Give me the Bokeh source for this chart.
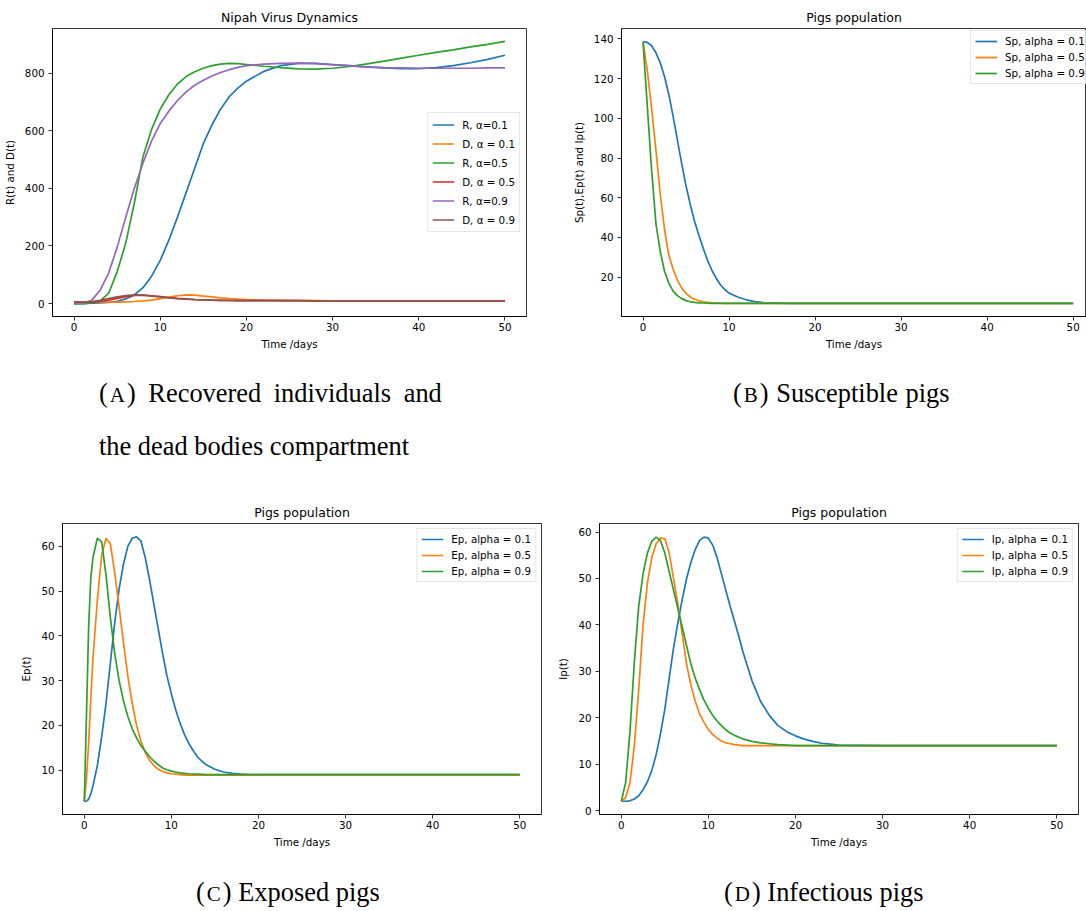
from bokeh.plotting import figure
from bokeh.models import Legend, LegendItem, Div, FixedTicker, Range1d
from bokeh.layouts import column, row
from bokeh.embed import file_html
from bokeh.resources import INLINE

# ---------------- data ----------------
# Panel A: recovered individuals R(t) and dead bodies D(t)
t_A = list(range(0, 21)) + list(range(22, 51, 2))
R_a01 = [0, 0, 1, 2, 4, 8, 16, 30, 55, 95, 150, 220, 300, 385, 470, 555, 620, 675, 718, 748, 772,
         806, 826, 834, 834, 830, 826, 822, 818, 816, 816, 819, 826, 836, 848, 862]
D_a01 = [5, 5, 5, 5, 5, 5, 6, 7, 9, 12, 17, 22, 27, 30, 29, 26, 23, 20, 17.5, 15.5, 14,
         12, 11, 10, 10, 9, 9, 9, 9, 9, 9, 9, 9, 9, 9, 9]
R_a05 = [0, 0, 2, 8, 35, 110, 210, 350, 510, 605, 675, 725, 762, 788, 805, 817, 826, 831, 834, 833, 830,
         824, 819, 815, 814, 817, 823, 832, 842, 852, 862, 872, 881, 891, 900, 910]
D_a05 = [5, 5, 5, 7, 12, 18, 24, 28, 29, 27, 24, 21, 18, 16, 14, 13, 12, 11, 11, 10, 10,
         10, 10, 10, 9, 9, 9, 9, 9, 9, 9, 9, 9, 9, 9, 9]
R_a09 = [0, 2, 10, 45, 105, 195, 300, 400, 488, 565, 625, 668, 705, 735, 758, 775, 790, 802, 812, 820, 826,
         831, 834, 835, 833, 829, 825, 821, 819, 818, 817, 817, 817, 817, 818, 818]
D_a09 = [5, 5, 7, 11, 17, 23, 28, 30, 29, 26, 23, 20, 17, 15, 13.5, 12.5, 11.5, 11, 10.5, 10, 10,
         10, 10, 10, 9, 9, 9, 9, 9, 9, 9, 9, 9, 9, 9, 9]
labels_A = ["R, \u03b1=0.1", "D, \u03b1 = 0.1", "R, \u03b1=0.5", "D, \u03b1 = 0.5", "R, \u03b1=0.9", "D, \u03b1 = 0.9"]

# Panel B: susceptible pigs Sp(t)
t_B = [i * 0.5 for i in range(21)] + list(range(11, 21)) + [25, 30, 35, 40, 45, 50]
Sp_a01 = [138.5, 138.2, 136.5, 133, 128, 121, 112, 101, 89, 77, 66, 56.5, 48, 41, 34.5, 28.5, 23.5, 19.5, 16.2, 13.8, 12,
          10, 8.6, 7.7, 7.2, 7.0, 6.9, 6.85, 6.8, 6.8, 6.8,
          6.8, 6.8, 6.8, 6.8, 6.8, 6.8]
Sp_a05 = [138.5, 124, 105, 84, 62, 44, 31, 24, 18.5, 14.5, 11.8, 10, 8.9, 8.1, 7.6, 7.3, 7.1, 7.0, 6.9, 6.85, 6.8,
          6.8, 6.8, 6.8, 6.8, 6.8, 6.8, 6.8, 6.8, 6.8, 6.8,
          6.8, 6.8, 6.8, 6.8, 6.8, 6.8]
Sp_a09 = [138.5, 106, 74, 47, 33, 23, 17, 13, 10.7, 9.2, 8.2, 7.6, 7.3, 7.1, 7.0, 6.9, 6.85, 6.8, 6.8, 6.8, 6.8,
          6.8, 6.8, 6.8, 6.8, 6.8, 6.8, 6.8, 6.8, 6.8, 6.8,
          6.8, 6.8, 6.8, 6.8, 6.8, 6.8]
labels_B = ["Sp, alpha = 0.1", "Sp, alpha = 0.5", "Sp, alpha = 0.9"]

# Panel C: exposed pigs Ep(t)
t_C = [0, 0.25, 0.5, 0.75] + [1 + i * 0.5 for i in range(27)] + list(range(15, 21)) + [25, 30, 35, 40, 45, 50]
Ep_a01 = [3, 3.1, 3.5, 4.7, 6.5, 11, 17.5, 25, 34, 43, 50.5, 56, 60, 61.8, 62.1, 61.2, 57.5, 52.5, 47, 41.5, 36, 31, 27,
          23.5, 20.5, 18, 16, 14.4, 13, 12, 11.2,
          10.2, 9.6, 9.3, 9.1, 9.0, 9.0,
          9.0, 9.0, 9.0, 9.0, 9.0, 9.0]
Ep_a05 = [3, 8, 16, 26, 35, 48, 58, 61.8, 60.5, 54, 46.5, 38.5, 31, 25, 20, 16.5, 14, 12.2, 11, 10.2, 9.7, 9.4, 9.2,
          9.1, 9.0, 8.9, 8.9, 8.9, 8.9, 8.9, 8.9,
          8.9, 8.9, 8.9, 8.9, 8.9, 8.9,
          8.9, 8.9, 8.9, 8.9, 8.9, 8.9]
Ep_a09 = [3, 22, 42, 53, 57.5, 61.8, 61, 53.5, 44, 36, 30, 25.5, 22, 19.3, 17.2, 15.5, 14.2, 13, 12, 11.2, 10.5, 10.1, 9.8,
          9.6, 9.4, 9.3, 9.2, 9.15, 9.1, 9.05, 9.0,
          9.0, 9.0, 9.0, 9.0, 9.0, 9.0,
          9.0, 9.0, 9.0, 9.0, 9.0, 9.0]
labels_C = ["Ep, alpha = 0.1", "Ep, alpha = 0.5", "Ep, alpha = 0.9"]

# Panel D: infectious pigs Ip(t)
t_D = [i * 0.5 for i in range(29)] + list(range(15, 26)) + [30, 35, 40, 45, 50]
Ip_a01 = [2, 2, 2.1, 2.5, 3.2, 4.5, 6.2, 8.6, 12, 16.5, 21.8, 28.5, 35, 40.5, 45.5, 50, 53.5, 56.3, 58.2, 58.9, 58.7,
          57.2, 54.5, 51, 47.5, 44, 40.8, 37.5, 34,
          28, 23.5, 20.5, 18.3, 17, 16.1, 15.4, 14.9, 14.5, 14.3, 14.1,
          14, 14, 14, 14, 14]
Ip_a05 = [2, 2.8, 6, 14, 26, 40, 49, 54.5, 57.5, 58.7, 58.6, 55.5, 50, 44.5, 38, 31.5, 27, 23.5, 20.8, 19, 17.5,
          16.4, 15.6, 15, 14.6, 14.4, 14.2, 14.1, 14.0,
          14, 14, 14, 14, 14, 14, 14, 14, 14, 14, 14,
          14, 14, 14, 14, 14]
Ip_a09 = [2, 6, 17, 32, 44, 51, 55.5, 58, 58.9, 58.2, 55.5, 51.5, 47.5, 43.5, 39.5, 35.5, 31.5, 28.5, 26, 23.8, 22,
          20.5, 19.3, 18.3, 17.4, 16.7, 16.2, 15.8, 15.4,
          14.9, 14.6, 14.4, 14.2, 14.1, 14.0, 14, 14, 14, 14, 14,
          14, 14, 14, 14, 14]
labels_D = ["Ip, alpha = 0.1", "Ip, alpha = 0.5", "Ip, alpha = 0.9"]

# ticks
xticks = [0, 10, 20, 30, 40, 50]
yticks_A = [0, 200, 400, 600, 800]
yticks_B = [20, 40, 60, 80, 100, 120, 140]
yticks_C = [10, 20, 30, 40, 50, 60]
yticks_D = [0, 10, 20, 30, 40, 50, 60]

captions = {
    "A": ("A", "Recovered individuals and", "the dead bodies compartment"),
    "B": ("B", "Susceptible pigs"),
    "C": ("C", "Exposed pigs"),
    "D": ("D", "Infectious pigs"),
}

# ---------------- styling ----------------
TAB = ["#1f77b4", "#ff7f0e", "#2ca02c", "#d62728", "#9467bd", "#8c564b"]
FONT = "DejaVu Sans"
SMALL = "10.3px"
LW = 1.7


def styled_fig(width, height, xr, yr, title, ylabel, yticks, borders, title_offset=0):
    bl, br, bt, bb = borders
    p = figure(width=width, height=height, x_range=Range1d(*xr), y_range=Range1d(*yr),
               output_backend="svg", toolbar_location=None,
               min_border_left=bl, min_border_right=br, min_border_top=bt, min_border_bottom=bb,
               background_fill_color="white", border_fill_color="white")
    p.title.text = title
    p.title.text_font = FONT
    p.title.text_font_size = "12.5px"
    p.title.text_font_style = "normal"
    p.title.text_color = "#000000"
    p.title.align = "center"
    p.title.standoff = 6.5
    p.title.offset = title_offset
    p.xgrid.visible = False
    p.ygrid.visible = False
    p.outline_line_color = "#000000"
    p.outline_line_width = 0.8
    p.outline_line_alpha = 1.0
    for ax, ticks, st in ((p.xaxis, xticks, 2), (p.yaxis, yticks, 4)):
        ax.ticker = FixedTicker(ticks=ticks)
        ax.axis_line_color = "#000000"
        ax.axis_line_width = 0.8
        ax.major_tick_line_color = "#000000"
        ax.major_tick_line_width = 0.8
        ax.major_tick_out = 4
        ax.major_tick_in = 0
        ax.minor_tick_line_color = None
        ax.major_label_text_font = FONT
        ax.major_label_text_font_size = SMALL
        ax.major_label_text_color = "#000000"
        ax.major_label_standoff = st
        ax.axis_label_text_font = FONT
        ax.axis_label_text_font_size = SMALL
        ax.axis_label_text_font_style = "normal"
        ax.axis_label_text_color = "#000000"
    p.xaxis.axis_label = "Time /days"
    p.xaxis.axis_label_standoff = 4
    p.yaxis.axis_label = ylabel
    p.yaxis.axis_label_standoff = 6
    return p


def add_legend(p, renderers, labels, location, row_h, spacing, margin=5):
    leg = Legend(items=[LegendItem(label=l, renderers=[r]) for l, r in zip(labels, renderers)],
                 location=location)
    leg.label_text_font = FONT
    leg.label_text_font_size = SMALL
    leg.label_text_color = "#000000"
    leg.glyph_width = 22
    leg.glyph_height = row_h
    leg.label_height = row_h
    leg.spacing = spacing
    leg.padding = 4
    leg.margin = margin
    leg.label_standoff = 8
    leg.border_line_color = "#cccccc"
    leg.border_line_width = 1
    leg.background_fill_color = "white"
    leg.background_fill_alpha = 0.8
    p.add_layout(leg)


# Panel A
pA = styled_fig(540, 360, (-2.5, 52.5), (-45, 955), "Nipah Virus Dynamics", "R(t) and D(t)",
                yticks_A, (52, 14, 28, 44))
rs = []
for ys, c in zip([R_a01, D_a01, R_a05, D_a05, R_a09, D_a09], TAB):
    rs.append(pA.line(t_A, ys, line_color=c, line_width=LW))
add_legend(pA, rs, labels_A, "center_right", 15, 4, margin=6)

# Panel B
pB = styled_fig(546, 360, (-2.5, 51.55), (0.2, 145.2), "Pigs population", "Sp(t),Ep(t) and Ip(t)",
                yticks_B, (81, 0, 28, 44), title_offset=4)
rs = []
for ys, c in zip([Sp_a01, Sp_a05, Sp_a09], TAB):
    rs.append(pB.line(t_B, ys, line_color=c, line_width=LW))
add_legend(pB, rs, labels_B, (349, 232), 12, 4)

# Panel C
pC = styled_fig(545, 360, (-2.5, 52.5), (0.1, 65.1), "Pigs population", "Ep(t)",
                yticks_C, (62, 4, 28, 41))
rs = []
for ys, c in zip([Ep_a01, Ep_a05, Ep_a09], TAB):
    rs.append(pC.line(t_C, ys, line_color=c, line_width=LW))
add_legend(pC, rs, labels_C, "top_right", 12, 4)

# Panel D
pD = styled_fig(541, 360, (-2.5, 52.5), (-0.85, 61.85), "Pigs population", "Ip(t)",
                yticks_D, (54, 8, 28, 41))
rs = []
for ys, c in zip([Ip_a01, Ip_a05, Ip_a09], TAB):
    rs.append(pD.line(t_D, ys, line_color=c, line_width=LW))
add_legend(pD, rs, labels_D, "top_right", 12, 4)


# ---------------- captions ----------------
def cap_html(key, pad_left, pad_top, line_h, word_sp=0):
    parts = captions[key]
    letter = parts[0]
    first = (f'(<span style="font-size:21px;padding:0 2px;">{letter}</span>) {parts[1]}')
    body = f'<span style="word-spacing:{word_sp}px;">{first}</span>'
    if len(parts) > 2:
        body += "<br>" + parts[2]
    return (f'<div style="font-family:\'Liberation Serif\',\'Times New Roman\',serif;font-size:26.4px;'
            f'line-height:{line_h}px;padding:{pad_top}px 0 0 {pad_left}px;color:#000;white-space:nowrap;'
            f'margin:0;">{body}</div>')


dA = Div(text=cap_html("A", 99, 8, 51, 6), width=540, height=135, margin=(0, 0, 0, 0))
dB = Div(text=cap_html("B", 193, 8, 51, 1), width=546, height=135, margin=(0, 0, 0, 0))
dC = Div(text=cap_html("C", 196, 22, 30), width=545, height=56, margin=(0, 0, 0, 0))
dD = Div(text=cap_html("D", 179, 22, 30), width=541, height=56, margin=(0, 0, 0, 0))

layout = column(row(pA, pB, spacing=0), row(dA, dB, spacing=0),
                row(pC, pD, spacing=0), row(dC, dD, spacing=0), spacing=0)

open("out.html", "w").write(file_html(layout, INLINE))
